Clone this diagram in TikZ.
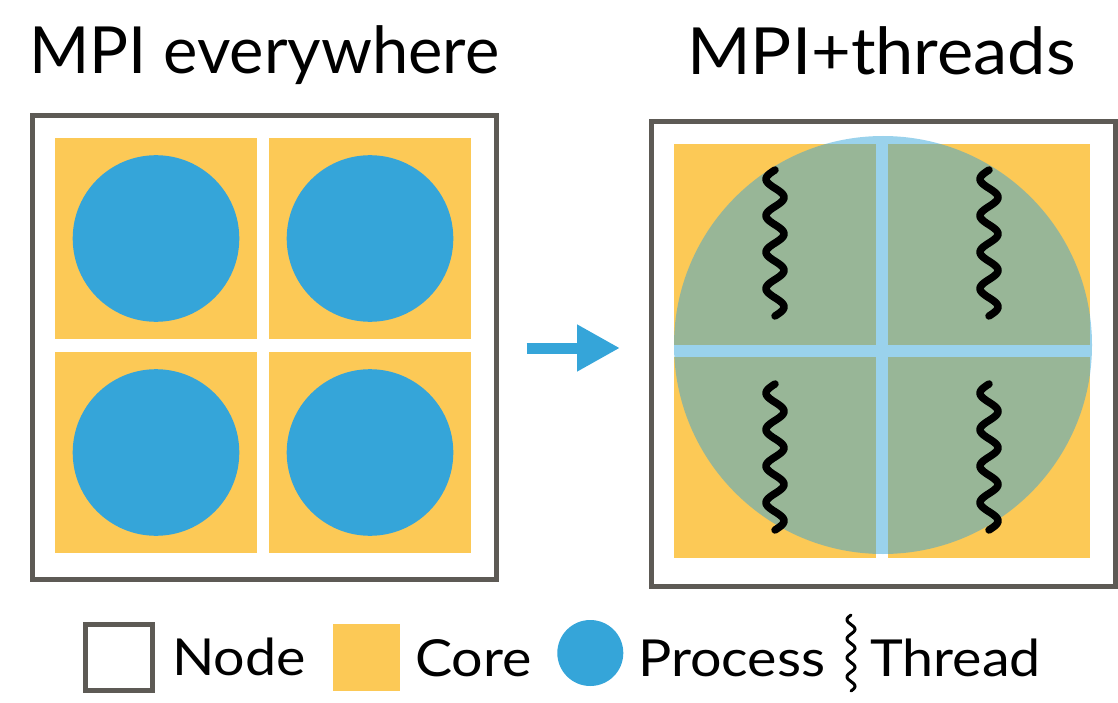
\documentclass[tikz,border=0pt]{standalone}
\usepackage{fontspec}
\setmainfont{Lato}
\usetikzlibrary{arrows.meta}
\definecolor{framegray}{RGB}{93,90,85}
\definecolor{coreorange}{RGB}{252,201,86}
\definecolor{procblue}{RGB}{53,165,217}

% wavy thread: centre x, centre y, length, amplitude, line width
\newcommand\squiggleat[5]{%
  \draw[line width=#5pt, line cap=round, line join=round, black]
    plot[domain=0:1440, samples=160, smooth]
    ({#1-#4*sin(\x)}, {#2-#3/2+\x/1440*#3});}
% legend labels, set a little wider
\newcommand\widelabel[1]{\scalebox{1.09}[1]{#1}}

\begin{document}
\begin{tikzpicture}[x=1pt, y=-1pt,
  frame/.style={draw=framegray, line width=5pt, inner sep=0pt, outer sep=0pt},
  core/.style={fill=coreorange, inner sep=0pt, outer sep=0pt, minimum width=202pt, minimum height=201pt},
  proc/.style={circle, fill=procblue, inner sep=0pt, outer sep=0pt, minimum size=166.6pt},
  title/.style={font=\fontsize{65}{65}\selectfont, anchor=base west, inner sep=0pt},
  legend/.style={font=\fontsize{51}{51}\selectfont, anchor=base west, inner sep=0pt},
]
\useasboundingbox (0,0) rectangle (1118,703);

% titles
\node[title] (tL) at (29,73.3) {MPI everywhere};
\node[title] (tR) at (687,75) {\scalebox{1.055}[1]{MPI+threads}};

% ---- MPI everywhere: one process per core
\node[core] (cL1) at (156,238.5) {};
\node[core] (cL2) at (370,238.5) {};
\node[core] (cL3) at (156,452.5) {};
\node[core] (cL4) at (370,452.5) {};
\foreach \c in {cL1,cL2,cL3,cL4} \node[proc] (p\c) at (\c) {};
\node[frame, minimum width=464.5pt, minimum height=463.5pt] (nodeL) at (264.25,347.75) {};

% ---- MPI+threads: one process spanning all cores
\node[core] (cR1) at (775,244.5) {};
\node[core] (cR2) at (989,244.5) {};
\node[core] (cR3) at (775,457.5) {};
\node[core] (cR4) at (989,457.5) {};
\node[circle, fill=procblue, fill opacity=0.5, inner sep=0pt, minimum size=418pt] (procR) at (883,345) {};
\squiggleat{775}{243}{146}{9}{7.5}
\squiggleat{989}{243}{146}{9}{7.5}
\squiggleat{775}{457}{146}{9}{7.5}
\squiggleat{989}{457}{146}{9}{7.5}
\node[frame, minimum width=464.5pt, minimum height=464.3pt] (nodeR) at (883.25,353.85) {};

% transition arrow
\coordinate (aS) at (526.7,348);
\coordinate (aE) at (620,348);
\draw[procblue, line width=11pt, -{Triangle[length=43pt, width=44pt]}] (aS) -- (aE);

% legend
\node[frame, minimum size=66.7pt] (lgNode) at (119.15,657.5) {};
\node[legend] (lgNodeT) at (172,675) {\widelabel{Node}};
\node[fill=coreorange, inner sep=0pt, minimum size=66.7pt] (lgCore) at (366.65,657.35) {};
\node[legend] (lgCoreT) at (415,676) {\widelabel{Core}};
\node[circle, fill=procblue, inner sep=0pt, minimum size=66pt] (lgProc) at (590.3,653) {};
\node[legend] (lgProcT) at (638,676) {\widelabel{Process}};
\squiggleat{851}{653}{76}{4}{3}
\node[legend] (lgThrT) at (870,676) {\widelabel{Thread}};
\end{tikzpicture}
\end{document}
